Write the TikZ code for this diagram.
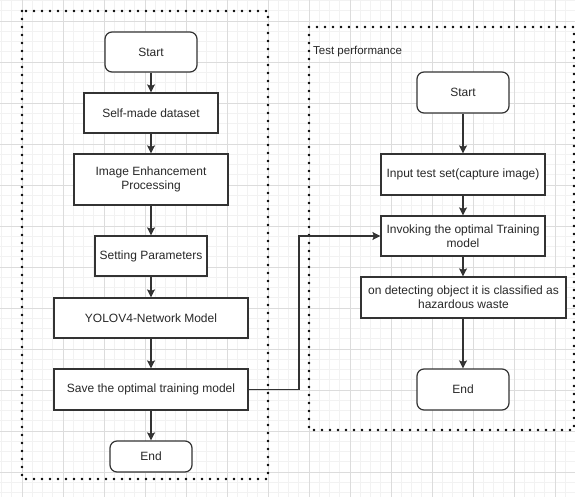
\documentclass[tikz,border=0pt]{standalone}
\usepackage{fontspec}
\setmainfont{Liberation Sans}
\usepackage{xcolor}
\definecolor{gridminor}{RGB}{242,242,242}
\definecolor{gridmajor}{RGB}{220,220,220}
\definecolor{boxline}{RGB}{51,51,51}
\definecolor{boxtext}{RGB}{40,40,40}
\usetikzlibrary{arrows.meta,positioning,calc}

\tikzset{
  flowbox/.style={draw=boxline, line width=1.2pt, fill=white, font=\fontsize{12}{14}\selectfont, text=boxtext, align=center, inner sep=2pt},
  termbox/.style={flowbox, rounded corners=7pt},
  flowarrow/.style={draw=boxline, line width=1.2pt, -{Stealth[length=8pt,width=8pt,inset=1.5pt]}},
  groupframe/.style={draw=black, line width=2.8pt, line cap=round, dash pattern=on 0pt off 8pt}
}

\begin{document}
\begin{tikzpicture}[x=1pt, y=-1pt]
  \useasboundingbox (0,0) rectangle (575,497);
  \fill[white] (0,0) rectangle (575,497);

  % background grid
  \begin{scope}
    \clip (0,0) rectangle (575,497);
    \foreach \i in {-2,...,54}
      \draw[gridminor, line width=0.6pt] ({22+10.25*\i},0) -- ({22+10.25*\i},497);
    \foreach \j in {-2,...,47}
      \draw[gridminor, line width=0.6pt] (0,{21+10.25*\j}) -- (575,{21+10.25*\j});
    \foreach \i in {0,...,13}
      \draw[gridmajor, line width=0.8pt] ({22+41*\i},0) -- ({22+41*\i},497);
    \foreach \j in {-1,...,12}
      \draw[gridmajor, line width=0.8pt] (0,{21+41*\j}) -- (575,{21+41*\j});
  \end{scope}

  % training frame
  \draw[groupframe] (22,11) rectangle (268,479);
  % test frame
  \draw[groupframe] (309,27) rectangle (574,430);
  \node[anchor=west, font=\fontsize{11.5}{13}\selectfont, text=boxtext, inner sep=0pt] (testlabel) at (313,52) {Test performance};

  % training flow
  \node[termbox, minimum width=92pt, minimum height=40pt] (trainstart) at (151,52) {Start};
  \node[flowbox, minimum width=134pt, minimum height=40pt] (dataset) at (151,113) {Self-made dataset};
  \node[flowbox, minimum width=154pt, minimum height=51pt] (enhance) at (151,179.5) {Image Enhancement\\Processing};
  \node[flowbox, minimum width=112pt, minimum height=40pt] (params) at (151,256) {Setting Parameters};
  \node[flowbox, minimum width=194pt, minimum height=40pt] (yolo) at (151,318) {YOLOV4-Network Model};
  \node[flowbox, minimum width=194pt, minimum height=41pt] (savemodel) at (151,389.5) {Save the optimal training model};
  \node[termbox, minimum width=82pt, minimum height=31pt] (trainend) at (151,456.5) {End};

  % test flow
  \node[termbox, minimum width=92pt, minimum height=41pt] (teststart) at (463,92.5) {Start};
  \node[flowbox, minimum width=164pt, minimum height=41pt] (input) at (463,174.5) {Input test set(capture image)};
  \node[flowbox, minimum width=164pt, minimum height=40pt] (invoke) at (463,236) {Invoking the optimal Training\\model};
  \node[flowbox, minimum width=205pt, minimum height=41pt] (detect) at (463.5,297.5) {on detecting object it is classified as\\hazardous waste};
  \node[termbox, minimum width=92pt, minimum height=41pt] (testend) at (463,389.5) {End};

  \draw[flowarrow] (trainstart) -- (dataset);
  \draw[flowarrow] (dataset) -- (enhance);
  \draw[flowarrow] (enhance) -- (params);
  \draw[flowarrow] (params) -- (yolo);
  \draw[flowarrow] (yolo) -- (savemodel);
  \draw[flowarrow] (savemodel) -- (trainend);

  \draw[flowarrow] (teststart) -- (input);
  \draw[flowarrow] (input) -- (invoke);
  \draw[flowarrow] (invoke) -- (detect.north -| invoke.south);
  \draw[flowarrow] (detect.south -| invoke.south) -- (testend);

  \coordinate (bend) at (299,0);
  \draw[flowarrow] (savemodel.east) -- (bend |- savemodel.east) |- (invoke.west);
\end{tikzpicture}
\end{document}
